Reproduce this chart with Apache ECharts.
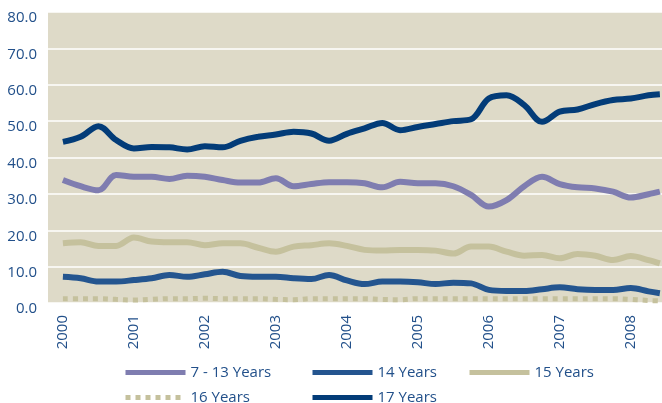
<!DOCTYPE html>
<html>
<head>
<meta charset="utf-8">
<script src="https://cdn.jsdelivr.net/npm/echarts@6/dist/echarts.min.js"></script>
<style>
  html, body { margin: 0; padding: 0; background: #fff; }
  #chart { width: 662px; height: 403px; }
</style>
</head>
<body>
<div id="chart"></div>
<script>
// quarterly points (decimal years), last one is mid 2008
const periods = [2000, 2000.25, 2000.5, 2000.75, 2001, 2001.25, 2001.5, 2001.75,
  2002, 2002.25, 2002.5, 2002.75, 2003, 2003.25, 2003.5, 2003.75,
  2004, 2004.25, 2004.5, 2004.75, 2005, 2005.25, 2005.5, 2005.75,
  2006, 2006.25, 2006.5, 2006.75, 2007, 2007.25, 2007.5, 2007.75,
  2008, 2008.25, 2008.41];
const yearTicks = [2000, 2001, 2002, 2003, 2004, 2005, 2006, 2007, 2008];

const age7to13 = [33.8, 32.1, 31.0, 35.2, 34.7, 34.7, 34.1, 35.0, 34.7, 33.8, 33.1, 33.1, 34.3, 32.1, 32.7, 33.2,
  33.2, 32.9, 31.8, 33.3, 32.9, 32.9, 32.1, 29.7, 26.5, 28.3, 32.1, 34.7, 32.7, 31.8, 31.5, 30.6, 29.0, 29.9, 30.6];
const age14 = [7.2, 6.8, 5.9, 5.9, 6.3, 6.8, 7.7, 7.2, 7.9, 8.6, 7.4, 7.2, 7.2, 6.8, 6.6, 7.7,
  6.2, 5.2, 5.9, 5.9, 5.7, 5.2, 5.6, 5.4, 3.6, 3.3, 3.3, 3.8, 4.3, 3.8, 3.6, 3.6, 4.1, 3.2, 2.7];
const age15 = [16.4, 16.7, 15.7, 15.7, 18.0, 16.9, 16.7, 16.7, 15.9, 16.4, 16.4, 15.2, 14.1, 15.5, 15.9, 16.4,
  15.7, 14.6, 14.4, 14.6, 14.6, 14.4, 13.6, 15.5, 15.5, 14.1, 13.0, 13.2, 12.3, 13.5, 13.0, 11.8, 12.9, 11.8, 10.9];
const age16 = [1.2, 1.2, 1.2, 1.0, 0.8, 1.0, 1.2, 1.2, 1.3, 1.2, 1.2, 1.2, 1.0, 0.9, 1.2, 1.2,
  1.2, 1.2, 1.0, 0.9, 1.2, 1.2, 1.2, 1.2, 1.2, 1.2, 1.2, 1.2, 1.2, 1.2, 1.2, 1.2, 1.0, 0.7, 0.6];
const age17 = [44.3, 45.7, 48.6, 44.8, 42.5, 42.9, 42.8, 42.2, 43.1, 42.8, 44.6, 45.7, 46.3, 47.1, 46.6, 44.6,
  46.5, 48.0, 49.5, 47.5, 48.4, 49.2, 50.0, 50.5, 56.2, 57.1, 54.4, 49.8, 52.6, 53.2, 54.7, 55.8, 56.2, 57.1, 57.4];

const textColor = "#22508a";
const font = "Open Sans";

function pairs(values) {
  return values.map(function (v, i) {
    return [periods[i], v];
  });
}

function makeLine(name, values, color, width, type) {
  return {
    name: name,
    type: "line",
    data: pairs(values),
    symbol: "none",
    smooth: 0.35,
    lineStyle: { color: color, width: width, type: type || "solid", cap: "butt" },
    itemStyle: { color: color },
  };
}

function legendAt(name, left, top) {
  return {
    data: [name],
    left: left,
    top: top,
    padding: 0,
    itemWidth: 60,
    itemHeight: 14,
    itemStyle: { opacity: 0 },
    lineStyle: { width: 5 },
    textStyle: { color: textColor, fontSize: 15, fontFamily: font },
  };
}

let chart = echarts.init(document.getElementById("chart"));
let option = {
  animation: false,
  grid: {
    left: 48,
    right: 0,
    top: 12,
    bottom: 100,
    show: true,
    backgroundColor: "#dedac8",
    borderWidth: 0,
  },
  legend: [
    legendAt("7 - 13 Years", 123, 365),
    legendAt("14 Years", 310, 365),
    legendAt("15 Years", 467, 365),
    legendAt("16 Years", 123, 390),
    legendAt("17 Years", 310, 390),
  ],
  xAxis: {
    type: "value",
    min: 1999.79,
    max: 2008.44,
    axisLine: { show: false },
    axisTick: { show: false },
    splitLine: { show: false },
    axisLabel: {
      customValues: yearTicks,
      rotate: 90,
      margin: 12,
      color: textColor,
      fontSize: 15,
      fontFamily: font,
      formatter: function (v) {
        return String(Math.round(v));
      },
    },
  },
  yAxis: {
    type: "value",
    min: 0,
    max: 80,
    interval: 10,
    axisLine: { show: false },
    axisTick: { show: false },
    splitLine: { lineStyle: { color: "#ffffff", width: 1.5 } },
    axisLabel: {
      margin: 11,
      color: textColor,
      fontSize: 15,
      fontFamily: font,
      verticalAlign: "top",
      lineHeight: 12,
      formatter: function (v) {
        return v.toFixed(1);
      },
    },
  },
  series: [
    makeLine("7 - 13 Years", age7to13, "#7f7db0", 6),
    makeLine("14 Years", age14, "#24558f", 6),
    makeLine("15 Years", age15, "#c5c19d", 6),
    makeLine("16 Years", age16, "#c5c19d", 5, [5, 5]),
    makeLine("17 Years", age17, "#033c78", 6),
  ],
};
chart.setOption(option);
</script>
</body>
</html>
